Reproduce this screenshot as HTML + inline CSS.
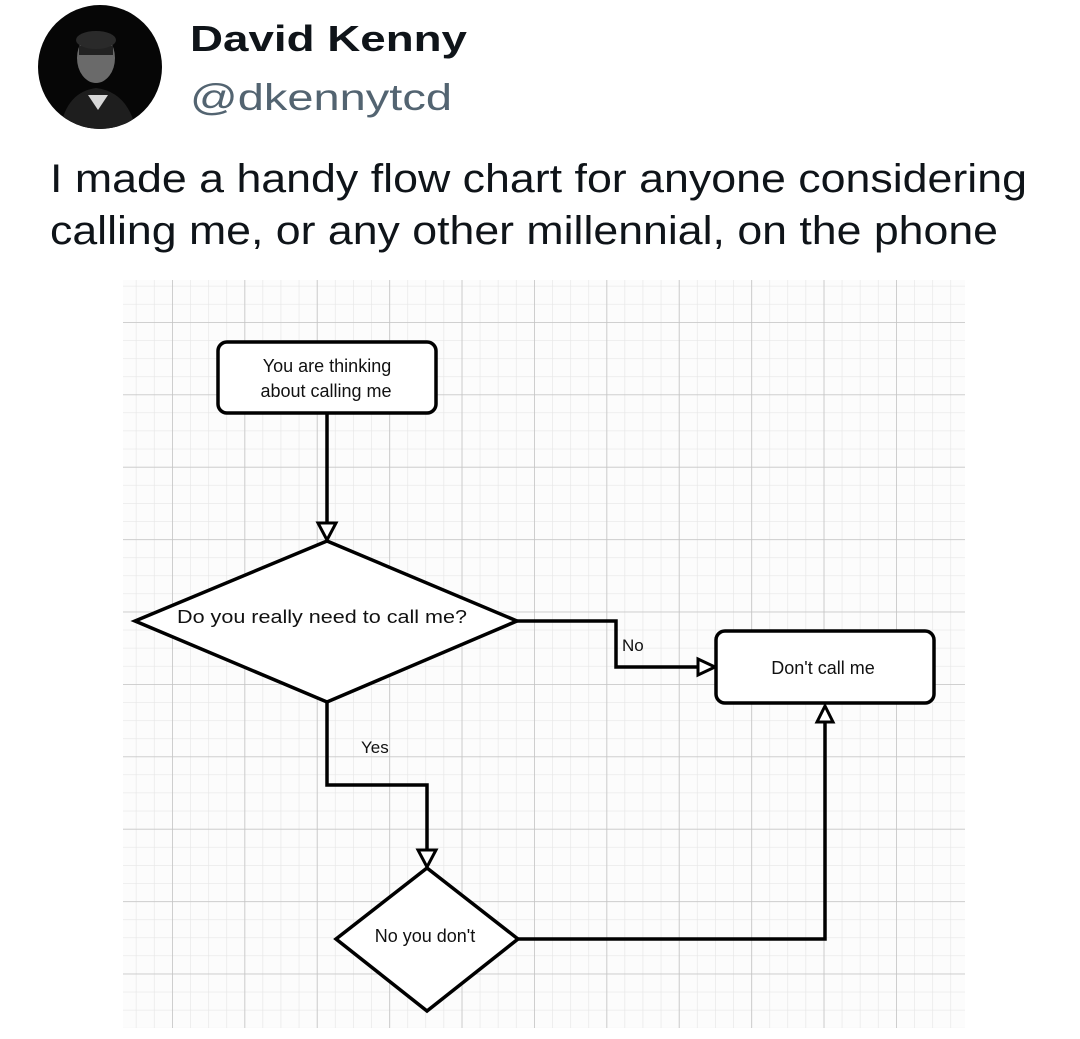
<!DOCTYPE html>
<html><head><meta charset="utf-8"><style>
html,body{margin:0;padding:0;background:#fff;}
svg{display:block}
</style></head><body>
<svg width="1080" height="1039" xmlns="http://www.w3.org/2000/svg">
<defs>
<pattern id="minor" x="172" y="322" width="18.1" height="18.1" patternUnits="userSpaceOnUse">
<path d="M0 0H18.1M0 0V18.1" stroke="#e6e6e6" stroke-width="1.3" fill="none"/>
</pattern>
<pattern id="major" x="172" y="322" width="72.4" height="72.4" patternUnits="userSpaceOnUse">
<path d="M0 0H72.4M0 0V72.4" stroke="#c4c4c4" stroke-width="1.6" fill="none"/>
</pattern>
<clipPath id="av"><circle cx="100" cy="67" r="62"/></clipPath>
</defs>
<rect width="1080" height="1039" fill="#fff"/>
<!-- avatar -->
<circle cx="100" cy="67" r="62" fill="#060606"/>
<g clip-path="url(#av)">
<ellipse cx="96" cy="58" rx="19" ry="25" fill="#6a6a6a"/>
<path d="M60 130 Q66 92 96 88 Q128 92 136 130Z" fill="#1e1e1e"/>
<path d="M88 95 L98 110 L108 95Z" fill="#d8d8d8"/>
<rect x="79" y="46" width="34" height="9" fill="#222"/>
<ellipse cx="96" cy="40" rx="20" ry="9" fill="#2a2a2a"/>
</g>
<text x="190" y="51" font-family="Liberation Sans, sans-serif" font-weight="bold" font-size="36" fill="#0f1419" textLength="277" lengthAdjust="spacingAndGlyphs">David Kenny</text>
<text x="190" y="110" font-family="Liberation Sans, sans-serif" font-size="37" fill="#536471" textLength="262" lengthAdjust="spacingAndGlyphs">@dkennytcd</text>
<text x="50" y="192" font-family="Liberation Sans, sans-serif" font-size="40" fill="#0f1419" textLength="977" lengthAdjust="spacingAndGlyphs">I made a handy flow chart for anyone considering</text>
<text x="50" y="244" font-family="Liberation Sans, sans-serif" font-size="40" fill="#0f1419" textLength="948" lengthAdjust="spacingAndGlyphs">calling me, or any other millennial, on the phone</text>
<!-- grid -->
<rect x="123" y="280" width="842" height="748" fill="#fcfcfc"/>
<rect x="123" y="280" width="842" height="748" fill="url(#minor)"/>
<rect x="123" y="280" width="842" height="748" fill="url(#major)"/>
<g stroke="#000" stroke-width="3.5" fill="none" stroke-linejoin="miter">
<!-- connectors -->
<path d="M327 413V525"/>
<path d="M517 621H616V667H700"/>
<path d="M327 702V785H427V852"/>
<path d="M518 939H825V720"/>
</g>
<g stroke="#000" stroke-width="3" fill="#fff" stroke-linejoin="miter">
<path d="M318 523H336L327 540Z"/>
<path d="M698 659V675L715 667Z"/>
<path d="M418 850H436L427 867Z"/>
<path d="M817 722H833L825 706Z"/>
</g>
<g stroke="#000" stroke-width="3.5" fill="#fff">
<rect x="218" y="342" width="218" height="71" rx="9"/>
<path d="M327 541L517 621L327 702L135 621Z"/>
<rect x="716" y="631" width="218" height="72" rx="9"/>
<path d="M427 868L518 939L427 1011L336 939Z"/>
</g>
<g font-family="Liberation Sans, sans-serif" fill="#111" font-size="18">
<text x="327" y="372" text-anchor="middle">You are thinking</text>
<text x="326" y="397" text-anchor="middle">about calling me</text>
<text x="322" y="623" text-anchor="middle" textLength="290" lengthAdjust="spacingAndGlyphs">Do you really need to call me?</text>
<text x="622" y="651" font-size="17">No</text>
<text x="823" y="674" text-anchor="middle">Don't call me</text>
<text x="361" y="753" font-size="17">Yes</text>
<text x="425" y="942" text-anchor="middle">No you don't</text>
</g>
</svg>
</body></html>
